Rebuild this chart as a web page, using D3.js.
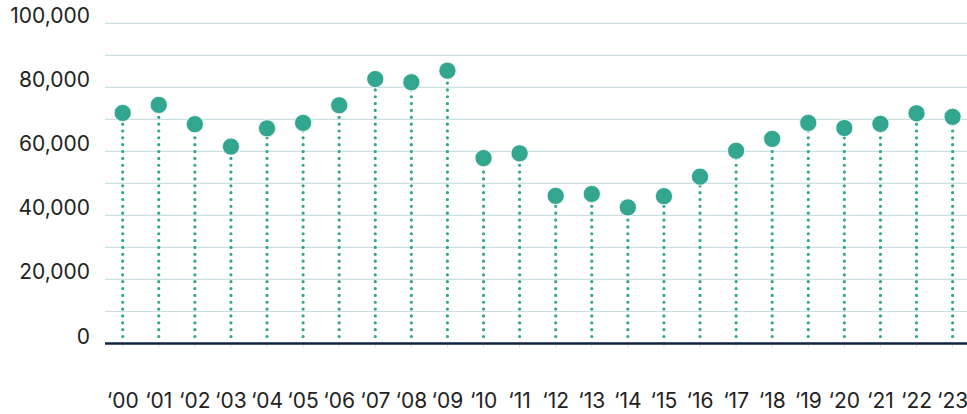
<!DOCTYPE html>
<html>
<head>
<meta charset="utf-8">
<script src="https://cdn.jsdelivr.net/npm/d3@7"></script>
<style>
  html, body { margin: 0; padding: 0; background: #ffffff; }
  svg { display: block; }
  text { font-family: Inter, "DejaVu Sans", sans-serif; fill: #222222; }
</style>
</head>
<body>
<svg id="chart" width="967" height="414"></svg>
<script>
// Year labels along the bottom
const years = ["‘00","‘01","‘02","‘03","‘04","‘05","‘06","‘07","‘08","‘09","‘10","‘11",
               "‘12","‘13","‘14","‘15","‘16","‘17","‘18","‘19","‘20","‘21","‘22","‘23"];
// Annual values
const values = [72000, 74500, 68500, 61500, 67200, 68900, 74400, 82600, 81600, 85200, 57900, 59400,
                46100, 46700, 42500, 46000, 52100, 60200, 63900, 68900, 67300, 68600, 71900, 70800];
// Y axis
const yTicks = [0, 20000, 40000, 60000, 80000, 100000];
const yGrid = [10000, 20000, 30000, 40000, 50000, 60000, 70000, 80000, 90000, 100000];

const svg = d3.select("#chart");
const plotLeft = 105, plotRight = 967, plotTop = 23.3, plotBottom = 343.5;

const x = d3.scalePoint().domain(years).range([122.7, 952.6]);
const y = d3.scaleLinear().domain([0, 100000]).range([plotBottom, plotTop]);

// Gridlines
svg.append("g").selectAll("line").data(yGrid).join("line")
  .attr("x1", plotLeft).attr("x2", plotRight)
  .attr("y1", d => y(d)).attr("y2", d => y(d))
  .attr("stroke", "#c9dfe2").attr("stroke-width", 1.2);

// Y labels, baseline on the gridline
svg.append("g").selectAll("text").data(yTicks).join("text")
  .attr("x", 90).attr("y", d => y(d))
  .attr("text-anchor", "end")
  .attr("font-size", 21)
  .text(d => d3.format(",")(d));

// Small ticks under the baseline
svg.append("g").selectAll("line").data(years).join("line")
  .attr("x1", d => x(d)).attr("x2", d => x(d))
  .attr("y1", plotBottom).attr("y2", plotBottom + 4)
  .attr("stroke", "#d6e3e6").attr("stroke-width", 1);

// Dotted stems
svg.append("g").selectAll("line").data(values).join("line")
  .attr("x1", (d, i) => x(years[i])).attr("x2", (d, i) => x(years[i]))
  .attr("y1", plotBottom - 7).attr("y2", d => y(d))
  .attr("stroke", "#2fa58d").attr("stroke-width", 3.2)
  .attr("stroke-linecap", "round")
  .attr("stroke-dasharray", "0 6.85");

// Baseline
svg.append("line")
  .attr("x1", plotLeft).attr("x2", plotRight)
  .attr("y1", plotBottom).attr("y2", plotBottom)
  .attr("stroke", "#0e2342").attr("stroke-width", 2.6);

// Points
svg.append("g").selectAll("circle").data(values).join("circle")
  .attr("cx", (d, i) => x(years[i])).attr("cy", d => y(d))
  .attr("r", 8.6)
  .attr("fill", "#32a68f")
  .attr("stroke", "#ffffff").attr("stroke-width", 0.8);

// X labels
svg.append("g").selectAll("text").data(years).join("text")
  .attr("x", d => x(d)).attr("y", 408)
  .attr("text-anchor", "middle")
  .attr("font-size", 21)
  .text(d => d);
</script>
</body>
</html>
